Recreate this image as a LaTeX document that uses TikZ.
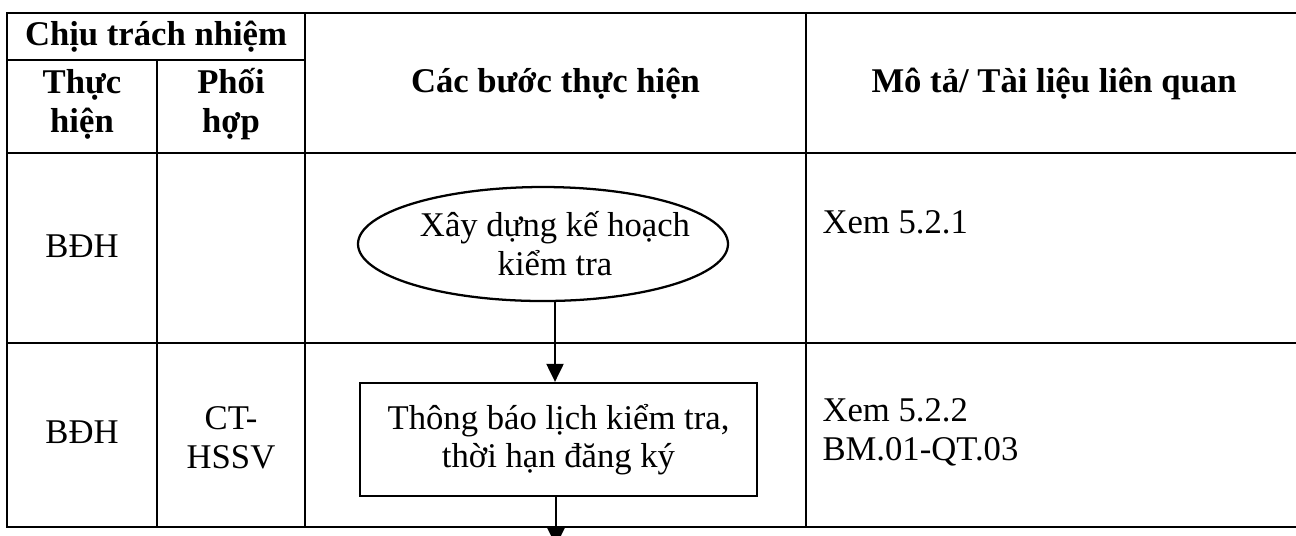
\documentclass[tikz,border=0pt]{standalone}
\usepackage{fontspec}
\setmainfont{Liberation Serif}
\usetikzlibrary{shapes.geometric,arrows.meta}

\begin{document}
\begin{tikzpicture}[x=0.375pt,y=-0.375pt,
  font=\fontsize{13pt}{14.45pt}\selectfont,
  grid/.style={line width=1.1pt,line cap=rect},
  txt/.style={inner sep=0pt,anchor=base,align=center},
  head/.style={txt,font=\fontsize{13pt}{14.6pt}\selectfont\bfseries},
  desc/.style={inner sep=0pt,anchor=base west,align=left},
  stepshape/.style={draw,line width=0.85pt,inner sep=0pt,align=center},
  flow/.style={line width=0.85pt,-{Triangle[width=6.4pt,length=6.8pt]}}]
  \useasboundingbox (0,0) rectangle (1296,535);

  % table rules
  \draw[grid] (7,13) -- (1302,13);
  \draw[grid] (7,60) -- (305,60);
  \draw[grid] (7,153) -- (1302,153);
  \draw[grid] (7,343) -- (1302,343);
  \draw[grid] (7,527) -- (1302,527);
  \draw[grid] (7,13) -- (7,527);
  \draw[grid] (157,60) -- (157,527);
  \draw[grid] (305,13) -- (305,527);
  \draw[grid] (806,13) -- (806,527);

  % header (multi-line nodes are placed by the baseline of their last line)
  \node[head] (hresp) at (156,45) {Chịu trách nhiệm};
  \node[head] (hdo) at (82,132) {Thực\\hiện};
  \node[head] (hco) at (231,132) {Phối\\hợp};
  \node[head] (hsteps) at (555.5,92) {Các bước thực hiện};
  \node[head] (hdesc) at (1054,92) {Mô tả/ Tài liệu liên quan};

  % row 1
  \node[txt] (r1do) at (82,257) {BĐH};
  \node[desc] (r1desc) at (822,233) {Xem 5.2.1};
  \node[stepshape,ellipse,minimum width=370*0.375pt,minimum height=114*0.375pt] (plan) at (543,244) {};
  \node[txt] (plantext) at (555,275) {Xây dựng kế hoạch\\kiểm tra};

  % row 2
  \node[txt] (r2do) at (82,443) {BĐH};
  \node[txt] (r2co) at (231,468) {CT-\\HSSV};
  \node[desc] (r2desc) at (822,460) {Xem 5.2.2\\BM.01-QT.03};
  \node[stepshape,rectangle,minimum width=397*0.375pt,minimum height=113*0.375pt] (notice) at (558.5,439.5) {Thông báo lịch kiểm tra,\\thời hạn đăng ký};

  \coordinate (next) at (556,546);

  % connectors
  \draw[flow] (plantext |- plan.south) -- (plantext |- notice.north);
  \draw[flow] (notice.south -| next) -- (next);
\end{tikzpicture}
\end{document}
